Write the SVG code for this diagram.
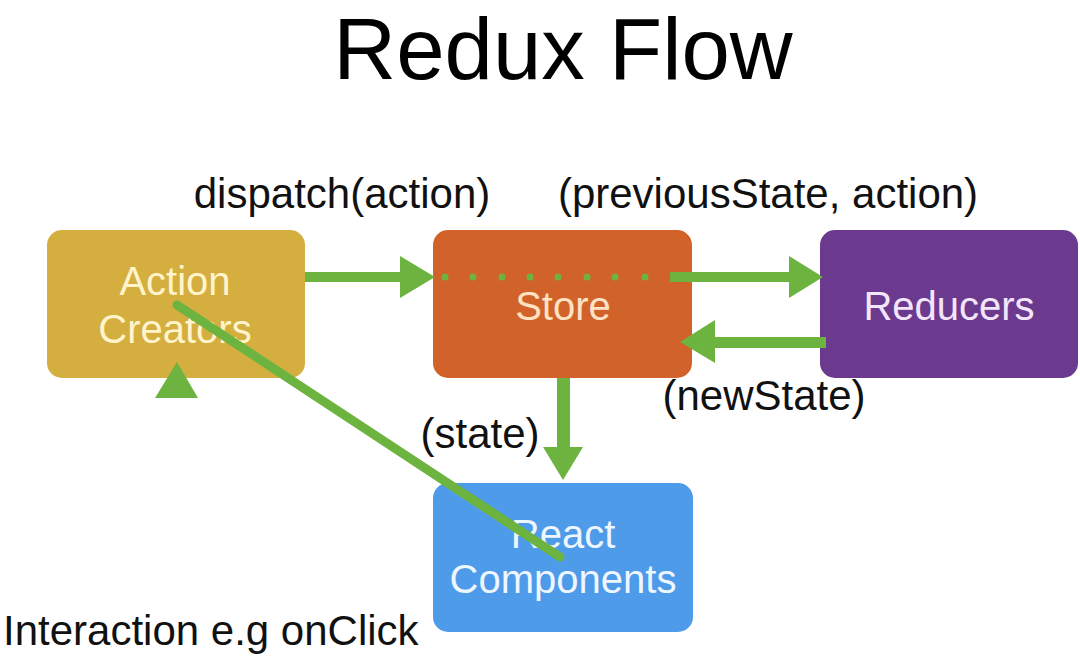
<svg xmlns="http://www.w3.org/2000/svg" width="1080" height="660" viewBox="0 0 1080 660">
<style>
  .t { font-family: "Liberation Sans", Arial, sans-serif; }
  .title { font-size: 87px; fill: #000; }
  .lbl { font-size: 42px; fill: #111; }
  .box { font-size: 40px; text-anchor: middle; }
  .g { fill: #6DB33F; }
  .gs { stroke: #6DB33F; fill: none; }
</style>
<rect width="1080" height="660" fill="#fff"/>
<g id="title"><text class="t title" x="563" y="79" text-anchor="middle">Redux Flow</text></g>

<g id="label-dispatch"><text class="t lbl" x="342" y="208" text-anchor="middle">dispatch(action)</text></g>
<g id="label-prev"><text class="t lbl" x="768" y="208" text-anchor="middle">(previousState, action)</text></g>
<g id="label-newstate"><text class="t lbl" x="764" y="410" text-anchor="middle">(newState)</text></g>
<g id="label-state"><text class="t lbl" x="480" y="448" text-anchor="middle">(state)</text></g>
<g id="label-interaction"><text class="t lbl" x="3" y="645">Interaction e.g onClick</text></g>

<g id="action-creators">
  <rect x="47" y="230" width="258" height="148" rx="15" fill="#D5AE40"/>
  <text class="t box" x="175" y="295" fill="#FFF4CC">Action</text>
  <text class="t box" x="175" y="343" fill="#FFF4CC">Creators</text>
</g>
<g id="store">
  <rect x="433" y="230" width="259" height="148" rx="15" fill="#D1622A"/>
  <text class="t box" x="563" y="320" fill="#FDE2C4">Store</text>
</g>
<g id="reducers">
  <rect x="820" y="230" width="258" height="148" rx="15" fill="#6B3A8E"/>
  <text class="t box" x="949" y="320" fill="#F3E6FA">Reducers</text>
</g>
<g id="react-components">
  <rect x="433" y="483" width="260" height="149" rx="15" fill="#4E9BE9"/>
  <text class="t box" x="563" y="548" fill="#EEF6FF">React</text>
  <text class="t box" x="563" y="593" fill="#EEF6FF">Components</text>
</g>

<g id="connectors">
  <rect class="g" x="305" y="272" width="98" height="10"/>
  <polygon class="g" points="400,256 435,277 400,298"/>
  <g class="g">
    <circle cx="445" cy="277" r="3.5"/>
    <circle cx="473" cy="277" r="3.5"/>
    <circle cx="502" cy="277" r="3.5"/>
    <circle cx="530" cy="277" r="3.5"/>
    <circle cx="558" cy="277" r="3.5"/>
    <circle cx="587" cy="277" r="3.5"/>
    <circle cx="615" cy="277" r="3.5"/>
    <circle cx="645" cy="277" r="3.5"/>
  </g>
  <rect class="g" x="670" y="272" width="122" height="10"/>
  <polygon class="g" points="789,256 823,277 789,298"/>
  <rect class="g" x="712" y="337" width="114" height="11"/>
  <polygon class="g" points="715,320 680,342 715,363"/>
  <rect class="g" x="557" y="378" width="13" height="72"/>
  <polygon class="g" points="543,447 583,447 563,480"/>
  <line class="gs" x1="177" y1="305" x2="560" y2="557" stroke-width="9" stroke-linecap="round"/>
  <polygon class="g" points="155,398 198,398 177,362"/>
</g>
</svg>
